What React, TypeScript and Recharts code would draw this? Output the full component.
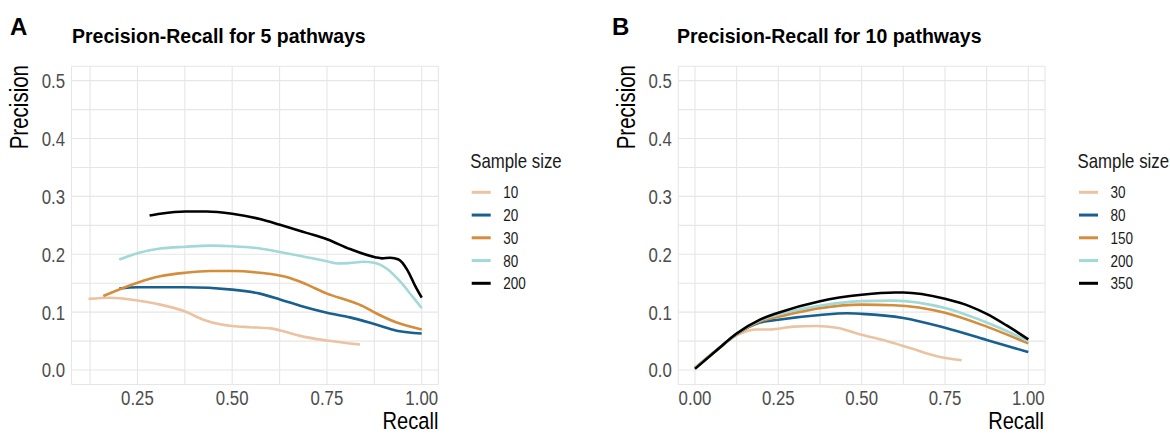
import React from 'react';
import { LineChart, Line, XAxis, YAxis, CartesianGrid } from 'recharts';

type Pt = [number, number];

// Panel A: 5 pathways, points are [recall, precision]
const a10: Pt[] = [[0.121, 0.123], [0.178, 0.125], [0.25, 0.12], [0.31, 0.113], [0.376, 0.101], [0.424, 0.087], [0.468, 0.079], [0.5, 0.076], [0.547, 0.074], [0.6, 0.072], [0.64, 0.066], [0.679, 0.059], [0.75, 0.051], [0.837, 0.044]];
const a20: Pt[] = [[0.202, 0.141], [0.25, 0.143], [0.376, 0.143], [0.5, 0.139], [0.573, 0.132], [0.626, 0.122], [0.679, 0.111], [0.75, 0.099], [0.811, 0.091], [0.877, 0.079], [0.934, 0.068], [1.0, 0.063]];
const a30: Pt[] = [[0.16, 0.128], [0.25, 0.151], [0.31, 0.162], [0.376, 0.168], [0.442, 0.171], [0.5, 0.171], [0.573, 0.168], [0.652, 0.159], [0.696, 0.148], [0.75, 0.132], [0.811, 0.119], [0.846, 0.11], [0.877, 0.099], [0.934, 0.082], [1.0, 0.07]];
const a80: Pt[] = [[0.202, 0.191], [0.25, 0.202], [0.31, 0.21], [0.376, 0.213], [0.442, 0.215], [0.5, 0.214], [0.573, 0.21], [0.626, 0.204], [0.696, 0.195], [0.75, 0.188], [0.78, 0.184], [0.811, 0.185], [0.846, 0.187], [0.877, 0.185], [0.908, 0.175], [0.943, 0.153], [0.978, 0.125], [1.0, 0.107]];
const a200: Pt[] = [[0.282, 0.267], [0.31, 0.27], [0.376, 0.274], [0.433, 0.274], [0.5, 0.27], [0.573, 0.261], [0.626, 0.251], [0.696, 0.237], [0.75, 0.226], [0.811, 0.209], [0.877, 0.195], [0.895, 0.193], [0.917, 0.194], [0.939, 0.191], [0.961, 0.174], [0.983, 0.145], [1.0, 0.125]];

// Panel B: 10 pathways
const b30: Pt[] = [[0, 0.004], [0.06, 0.033], [0.125, 0.06], [0.185, 0.07], [0.225, 0.07], [0.295, 0.075], [0.365, 0.076], [0.425, 0.073], [0.5, 0.061], [0.575, 0.05], [0.65, 0.037], [0.725, 0.024], [0.8, 0.017]];
const b80: Pt[] = [[0, 0.003], [0.065, 0.034], [0.125, 0.062], [0.195, 0.082], [0.25, 0.087], [0.375, 0.095], [0.455, 0.098], [0.5, 0.097], [0.625, 0.09], [0.75, 0.073], [0.875, 0.052], [1.0, 0.031]];
const b150: Pt[] = [[0, 0.004], [0.065, 0.034], [0.125, 0.062], [0.195, 0.084], [0.25, 0.092], [0.375, 0.107], [0.5, 0.113], [0.595, 0.112], [0.75, 0.099], [0.875, 0.075], [1.0, 0.046]];
const b200: Pt[] = [[0, 0.003], [0.065, 0.034], [0.125, 0.063], [0.195, 0.086], [0.25, 0.096], [0.375, 0.111], [0.5, 0.119], [0.595, 0.12], [0.75, 0.107], [0.875, 0.082], [1.0, 0.05]];
const b350: Pt[] = [[0, 0.002], [0.065, 0.034], [0.125, 0.063], [0.195, 0.087], [0.25, 0.099], [0.375, 0.119], [0.5, 0.13], [0.6, 0.134], [0.625, 0.134], [0.75, 0.123], [0.825, 0.11], [0.875, 0.097], [0.935, 0.077], [1.0, 0.053]];

const sizesA = ['10', '20', '30', '80', '200'];
const sizesB = ['30', '80', '150', '200', '350'];
const COLORS = ['#EBC3A1', '#17608F', '#D38D3B', '#A0D9D7', '#000000'];

const yTicks = [0, 0.1, 0.2, 0.3, 0.4, 0.5];
const yGrid = [0, 0.05, 0.1, 0.15, 0.2, 0.25, 0.3, 0.35, 0.4, 0.45, 0.5];
const xTicksA = [0.25, 0.5, 0.75, 1];
const xGridA = [0.125, 0.25, 0.375, 0.5, 0.625, 0.75, 0.875, 1];
const xTicksB = [0, 0.25, 0.5, 0.75, 1];
const xGridB = [0, 0.125, 0.25, 0.375, 0.5, 0.625, 0.75, 0.875, 1];

const FONT = '"Liberation Sans", Arial, sans-serif';
const SQUEEZE = 0.82; // condensed look of the original text

const toRows = (pts: Pt[]) => pts.map(([r, p]) => ({ recall: r, precision: p }));

// text drawn narrow by squeezing it horizontally around its anchor point
const NText: React.FC<{
  x: number; y: number; size: number; anchor?: 'start' | 'middle' | 'end';
  rotate?: number; fill?: string; dy?: string; children: React.ReactNode;
}> = ({ x, y, size, anchor = 'start', rotate = 0, fill = '#000', dy, children }) => (
  <text
    transform={`translate(${x} ${y}) rotate(${rotate}) scale(${SQUEEZE} 1)`}
    textAnchor={anchor}
    dy={dy}
    fontFamily={FONT}
    fontSize={size}
    fill={fill}
  >
    {children}
  </text>
);

const XTick = (props: any) => (
  <NText x={props.x} y={props.y} size={20.5} anchor="middle" dy="0.71em" fill="#4D4D4D">
    {Number(props.payload.value).toFixed(2)}
  </NText>
);

const YTick = (props: any) => (
  <NText x={props.x} y={props.y} size={20.5} anchor="end" dy="0.36em" fill="#4D4D4D">
    {Number(props.payload.value).toFixed(1)}
  </NText>
);

interface PanelProps {
  left: number;
  series: Pt[][];
  xDomain: [number, number];
  xTicks: number[];
  xGrid: number[];
  margin: { top: number; right: number; bottom: number; left: number };
}

const Panel: React.FC<PanelProps> = ({ left, series, xDomain, xTicks, xGrid, margin }) => (
  <div style={{ position: 'absolute', left, top: 0 }}>
    <LineChart width={585} height={434} margin={margin}>
      <XAxis xAxisId="g" dataKey="recall" type="number" domain={xDomain} ticks={xGrid} allowDataOverflow hide />
      <YAxis yAxisId="g" type="number" domain={[-0.025, 0.525]} ticks={yGrid} allowDataOverflow hide />
      <CartesianGrid xAxisId="g" yAxisId="g" stroke="#E6E6E6" strokeWidth={1.1} />
      <XAxis
        dataKey="recall"
        type="number"
        domain={xDomain}
        ticks={xTicks}
        allowDataOverflow
        height={30}
        axisLine={false}
        tickLine={false}
        tickSize={0}
        tickMargin={5.5}
        tick={<XTick />}
      />
      <YAxis
        dataKey="precision"
        type="number"
        domain={[-0.025, 0.525]}
        ticks={yTicks}
        allowDataOverflow
        width={30}
        axisLine={false}
        tickLine={false}
        tickSize={0}
        tickMargin={6.5}
        tick={<YTick />}
      />
      {series.map((pts, i) => (
        <Line
          key={i}
          data={toRows(pts)}
          dataKey="precision"
          type="monotone"
          stroke={COLORS[i]}
          strokeWidth={2.6}
          dot={false}
          isAnimationActive={false}
        />
      ))}
    </LineChart>
  </div>
);

const Legend: React.FC<{ x: number; labels: string[] }> = ({ x, labels }) => (
  <g>
    <NText x={x - 1.5} y={168} size={20.5} fill="#1A1A1A">Sample size</NText>
    {labels.map((lab, i) => {
      const cy = 192.3 + i * 22.75;
      return (
        <g key={lab}>
          <line x1={x} x2={x + 19} y1={cy} y2={cy} stroke={COLORS[i]} strokeWidth={3} />
          <NText x={x + 31.5} y={cy + 6} size={16.5} fill="#1A1A1A">{lab}</NText>
        </g>
      );
    })}
  </g>
);

export default function App() {
  return (
    <div style={{ position: 'absolute', left: 0, top: 0, width: 1170, height: 434, background: '#fff' }}>
      <Panel
        left={0}
        series={[a10, a20, a30, a80, a200]}
        xDomain={[0.076, 1.044]}
        xTicks={xTicksA}
        xGrid={xGridA}
        margin={{ top: 66.2, right: 146.6, bottom: 19.5, left: 41.5 }}
      />
      <Panel
        left={585}
        series={[b30, b80, b150, b200, b350]}
        xDomain={[-0.05, 1.05]}
        xTicks={xTicksB}
        xGrid={xGridB}
        margin={{ top: 66.2, right: 125, bottom: 19.5, left: 63.3 }}
      />
      <svg width={1170} height={434} style={{ position: 'absolute', left: 0, top: 0, pointerEvents: 'none' }}>
        <text x={10} y={35} fontFamily={FONT} fontWeight="bold" fontSize={24}>A</text>
        <text x={72} y={43} fontFamily={FONT} fontWeight="bold" fontSize={19.5}>Precision-Recall for 5 pathways</text>
        <text x={612} y={35} fontFamily={FONT} fontWeight="bold" fontSize={24}>B</text>
        <text x={677} y={43} fontFamily={FONT} fontWeight="bold" fontSize={19.5}>Precision-Recall for 10 pathways</text>

        <NText x={28} y={65} rotate={-90} anchor="end" size={25}>Precision</NText>
        <NText x={635} y={65} rotate={-90} anchor="end" size={25}>Precision</NText>
        <NText x={438.4} y={428.5} anchor="end" size={24.5}>Recall</NText>
        <NText x={1044} y={428.5} anchor="end" size={24.5}>Recall</NText>

        <Legend x={471.7} labels={sizesA} />
        <Legend x={1079} labels={sizesB} />
      </svg>
    </div>
  );
}
